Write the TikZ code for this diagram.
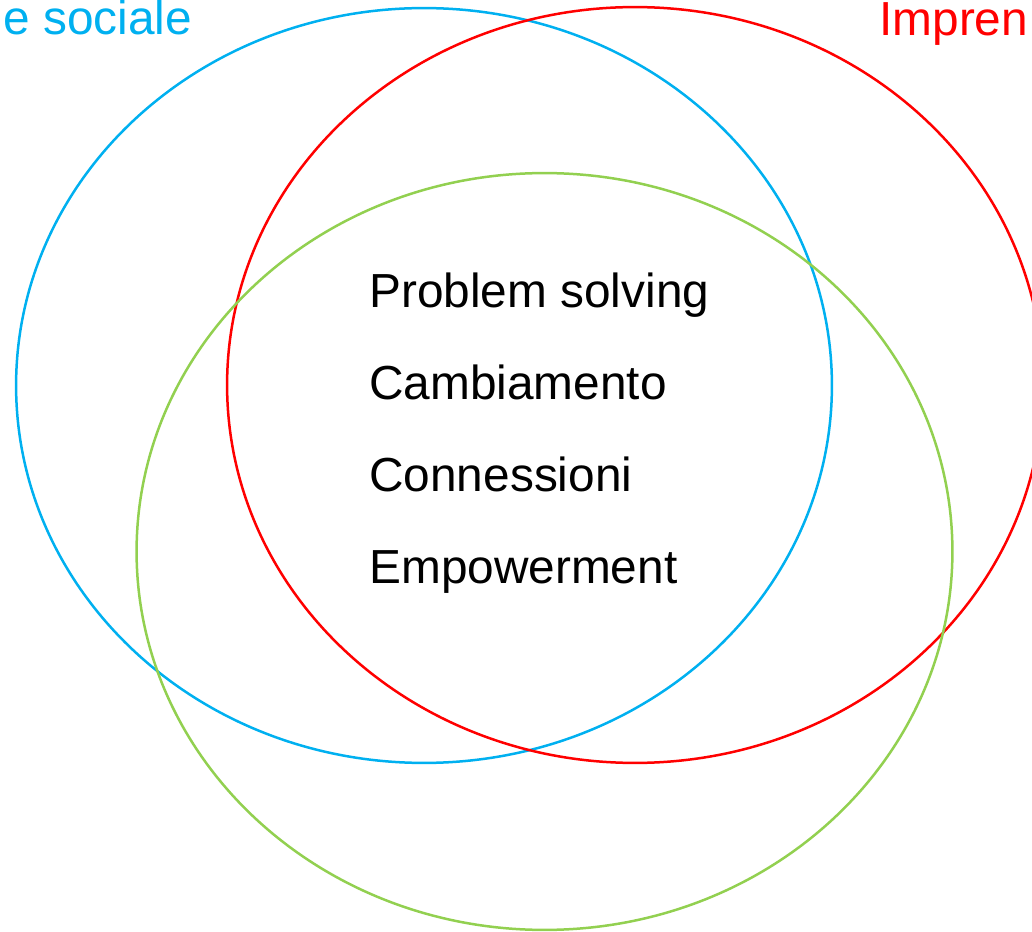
\documentclass[tikz,border=0pt]{standalone}
\usepackage{fontspec}
\setmainfont{Liberation Sans}
\usepackage{xcolor}
\usetikzlibrary{positioning}
\definecolor{socialblue}{RGB}{0,176,240}
\definecolor{imprred}{RGB}{255,0,0}
\definecolor{ringgreen}{RGB}{146,208,80}

\begin{document}
\begin{tikzpicture}[x=0.02cm, y=-0.02cm,
    ring/.style={line width=0.05cm},
    word/.style={anchor=base west, inner sep=0pt, font=\fontsize{27.2}{32}\selectfont}]
    \useasboundingbox (0,0) rectangle (1032,932);
    \clip (0,0) rectangle (1032,932);

    % Rings
    \draw[ring, socialblue] (424,385.5) ellipse [x radius=8.16cm, y radius=7.55cm];
    \draw[ring, imprred] (635,385) ellipse [x radius=8.16cm, y radius=7.56cm];
    \draw[ring, ringgreen] (544.5,551.5) ellipse [x radius=8.16cm, y radius=7.57cm];

    % Titles
    \node[word, text=socialblue] (sociale) at (3,35) {e sociale};
    \node[word, text=imprred] (impren) at (879,36) {Impren};

    % Shared core
    \node[word] (solving) at (369,308) {Problem solving};
    \node[word] (cambio) at (369,400) {Cambiamento};
    \node[word] (conn) at (369,491.5) {Connessioni};
    \node[word] (empow) at (369,583) {Empowerment};
\end{tikzpicture}
\end{document}
